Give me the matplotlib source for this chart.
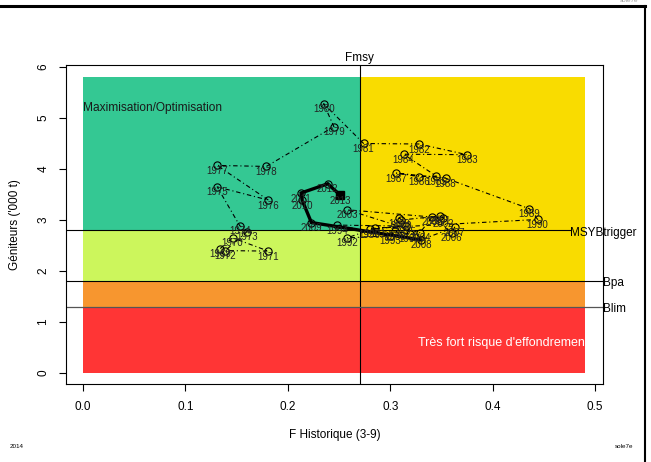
import matplotlib
matplotlib.use("Agg")
import matplotlib.pyplot as plt
from matplotlib.lines import Line2D
import numpy as np

plt.rcParams['font.family'] = ['Liberation Sans', 'DejaVu Sans']

# historical trajectory (F, spawning stock biomass)
years = list(range(1969, 2014))
f_hist = [0.134, 0.146, 0.181, 0.139, 0.160, 0.153, 0.131, 0.181, 0.131, 0.179,
          0.245, 0.235, 0.274, 0.328, 0.375, 0.313, 0.345, 0.328, 0.306, 0.354,
          0.436, 0.444, 0.285, 0.258, 0.300, 0.248, 0.315, 0.280, 0.319, 0.305,
          0.309, 0.311, 0.349, 0.352, 0.258, 0.329, 0.341, 0.360, 0.363, 0.330,
          0.223, 0.214, 0.213, 0.239, 0.251]
ssb = [2.44, 2.65, 2.39, 2.40, 2.77, 2.89, 3.65, 3.39, 4.07, 4.05,
       4.83, 5.28, 4.50, 4.49, 4.28, 4.29, 3.86, 3.85, 3.92, 3.82,
       3.22, 3.01, 2.84, 2.65, 2.69, 2.90, 2.88, 2.82, 2.73, 2.78,
       3.04, 3.00, 3.08, 3.04, 3.20, 2.75, 3.06, 2.75, 2.86, 2.61,
       2.95, 3.39, 3.53, 3.71, 3.49]
recent_from = 2008

# reference points
fmsy = 0.27
msy_btrigger = 2.8
bpa = 1.8
blim = 1.3
zone_fmax = 0.49
zone_bmax = 5.8

fig = plt.figure(figsize=(6.51, 4.62), dpi=100)
ax = fig.add_axes([0.1014, 0.1688, 0.8249, 0.6905])
ax.set_xlim(-0.0166, 0.5078)
ax.set_ylim(-0.216, 6.039)

# coloured zones
ax.fill([0, fmsy, fmsy, 0], [msy_btrigger, msy_btrigger, zone_bmax, zone_bmax], color='#34C893', lw=0)
ax.fill([0, fmsy, fmsy, 0], [bpa, bpa, msy_btrigger, msy_btrigger], color='#CCF65C', lw=0)
ax.fill([fmsy, zone_fmax, zone_fmax, fmsy], [bpa, bpa, zone_bmax, zone_bmax], color='#F9DC00', lw=0)
ax.fill([0, zone_fmax, zone_fmax, 0], [blim, blim, bpa, bpa], color='#F7962F', lw=0)
ax.fill([0, zone_fmax, zone_fmax, 0], [0, 0, blim, blim], color='#FF3535', lw=0)

ax.text(0.0, 5.2, 'Maximisation/Optimisation', fontsize=8.6, color='#1a1a1a', va='center')
ax.text(0.327, 0.59, "Très fort risque d'effondrement", fontsize=9, color='white', va='center')

# reference lines
ax.axvline(fmsy, color='black', lw=0.8)
ax.plot([-0.0166, 0.4756], [msy_btrigger, msy_btrigger], color='black', lw=0.8)
ax.axhline(bpa, color='black', lw=0.8)
ax.axhline(blim, color='#555555', lw=0.9)
ax.text(fmsy, 6.18, 'Fmsy', fontsize=8.5, ha='center', va='center', clip_on=False)
ax.text(0.4756, 2.75, 'MSYBtrigger', fontsize=8.5, va='center', clip_on=False)
ax.text(0.5078, 1.76, 'Bpa', fontsize=8.5, va='center', clip_on=False)
ax.text(0.5078, 1.25, 'Blim', fontsize=8.5, va='center', clip_on=False)

# trajectory
ax.plot(f_hist, ssb, color='black', lw=0.8, linestyle=(0, (4, 2.5, 1, 2.5)),
        marker='o', ms=5.2, mfc='none', mec='black', mew=0.8)
k = years.index(recent_from)
ax.plot(f_hist[k:], ssb[k:], color='black', lw=2.4, solid_joinstyle='miter')
ax.plot(f_hist[-1], ssb[-1], marker='s', ms=6, color='black', ls='none')
for yr, fx, bx in zip(years, f_hist, ssb):
    ax.annotate(str(yr), (fx, bx), xytext=(0, -4), textcoords='offset points',
                ha='center', va='center', fontsize=7, color='#222222')

ax.set_xticks([0.0, 0.1, 0.2, 0.3, 0.4, 0.5])
ax.set_xticklabels(['0.0', '0.1', '0.2', '0.3', '0.4', '0.5'])
ax.set_yticks([0, 1, 2, 3, 4, 5, 6])
ax.tick_params(axis='both', direction='out', length=5, width=0.8, labelsize=8.5, pad=7)
for lab in ax.get_yticklabels():
    lab.set_rotation(90)
    lab.set_va('center')
for sp in ax.spines.values():
    sp.set_linewidth(0.8)

ax.set_xlabel('F Historique (3-9)', fontsize=8.5, labelpad=12)
ax.set_ylabel("Géniteurs ('000 t)", fontsize=8.5, labelpad=12)

# page frame and footers
fig.add_artist(Line2D([0, 645 / 651], [1 - 6 / 462, 1 - 6 / 462], color='black', lw=2.2))
fig.add_artist(Line2D([645 / 651, 645 / 651], [0, 1 - 6 / 462], color='black', lw=1.5))
fig.text(10 / 651, 1 - 447 / 462, '2014', fontsize=4.5, va='center')
fig.text(615 / 651, 1 - 447 / 462, 'sole7e', fontsize=4.5, va='center')
fig.text(620 / 651, 1 - 1 / 462, 'sole7e', fontsize=4.5, va='center', color='#999999')

fig.savefig('out.png', dpi=100)
